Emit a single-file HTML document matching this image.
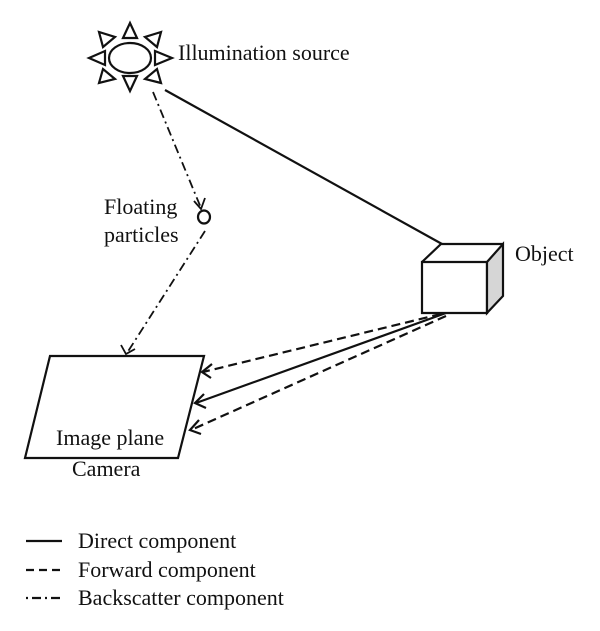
<!DOCTYPE html>
<html><head><meta charset="utf-8"><style>
html,body{margin:0;padding:0;background:#fff;}
svg{display:block;}
text{font-family:"Liberation Serif",serif;font-size:22px;fill:#111;}
</style></head><body>
<svg width="600" height="631" viewBox="0 0 600 631" xmlns="http://www.w3.org/2000/svg">
<g fill="none" stroke="#111" stroke-width="2.2">
<ellipse cx="130" cy="58" rx="21" ry="15"/>
<polygon points="130,23 123,38 137,38"/>
<polygon points="130,91 123,76 137,76"/>
<polygon points="89,58 105,51 105,65"/>
<polygon points="172,58 155,51 155,65"/>
<polygon points="99,32 103,47 115,37"/>
<polygon points="161,32 145,37 157,47"/>
<polygon points="99,83 103,69 115,79"/>
<polygon points="161,83 145,79 157,69"/>
<line x1="165" y1="90" x2="442" y2="244"/>
<path d="M153 92 L201 208" stroke-dasharray="9,4,2,4" stroke-width="1.8"/>
<path d="M194 201 L201 209 L205 198" stroke-width="1.8"/>
<ellipse cx="204" cy="217" rx="6" ry="6.5" stroke-width="2.2"/>
<path d="M205 231 L127 353" stroke-dasharray="9,4,2,4" stroke-width="1.8"/>
<path d="M121 345 L126 354 L135 349" stroke-width="1.8"/>
<polygon points="422,262 487,262 487,313 422,313" fill="#fff"/>
<polygon points="487,262 503,244 503,296 487,313" fill="#d6d6d6"/>
<polyline points="422,262 441,244 503,244"/>
<polygon points="50,356 204,356 178,458 25,458"/>
<line x1="441" y1="314" x2="203" y2="372" stroke-dasharray="9,5"/>
<path d="M212 364 L202 372 L211 378"/>
<line x1="446" y1="313" x2="196" y2="403"/>
<path d="M204 394 L195 403 L206 408"/>
<line x1="446" y1="316" x2="191" y2="430" stroke-dasharray="9,5"/>
<path d="M199 420 L190 430 L201 434"/>
<line x1="26" y1="541" x2="62" y2="541"/>
<line x1="26" y1="570" x2="62" y2="570" stroke-dasharray="8,5"/>
<line x1="26" y1="598" x2="62" y2="598" stroke-dasharray="2,4,9,4"/>
</g>
<text x="178" y="60">Illumination source</text>
<text x="104" y="214">Floating</text>
<text x="104" y="242">particles</text>
<text x="515" y="261">Object</text>
<text x="56" y="445">Image plane</text>
<text x="72" y="476">Camera</text>
<text x="78" y="548">Direct component</text>
<text x="78" y="577">Forward component</text>
<text x="78" y="605">Backscatter component</text>
</svg>
</body></html>
